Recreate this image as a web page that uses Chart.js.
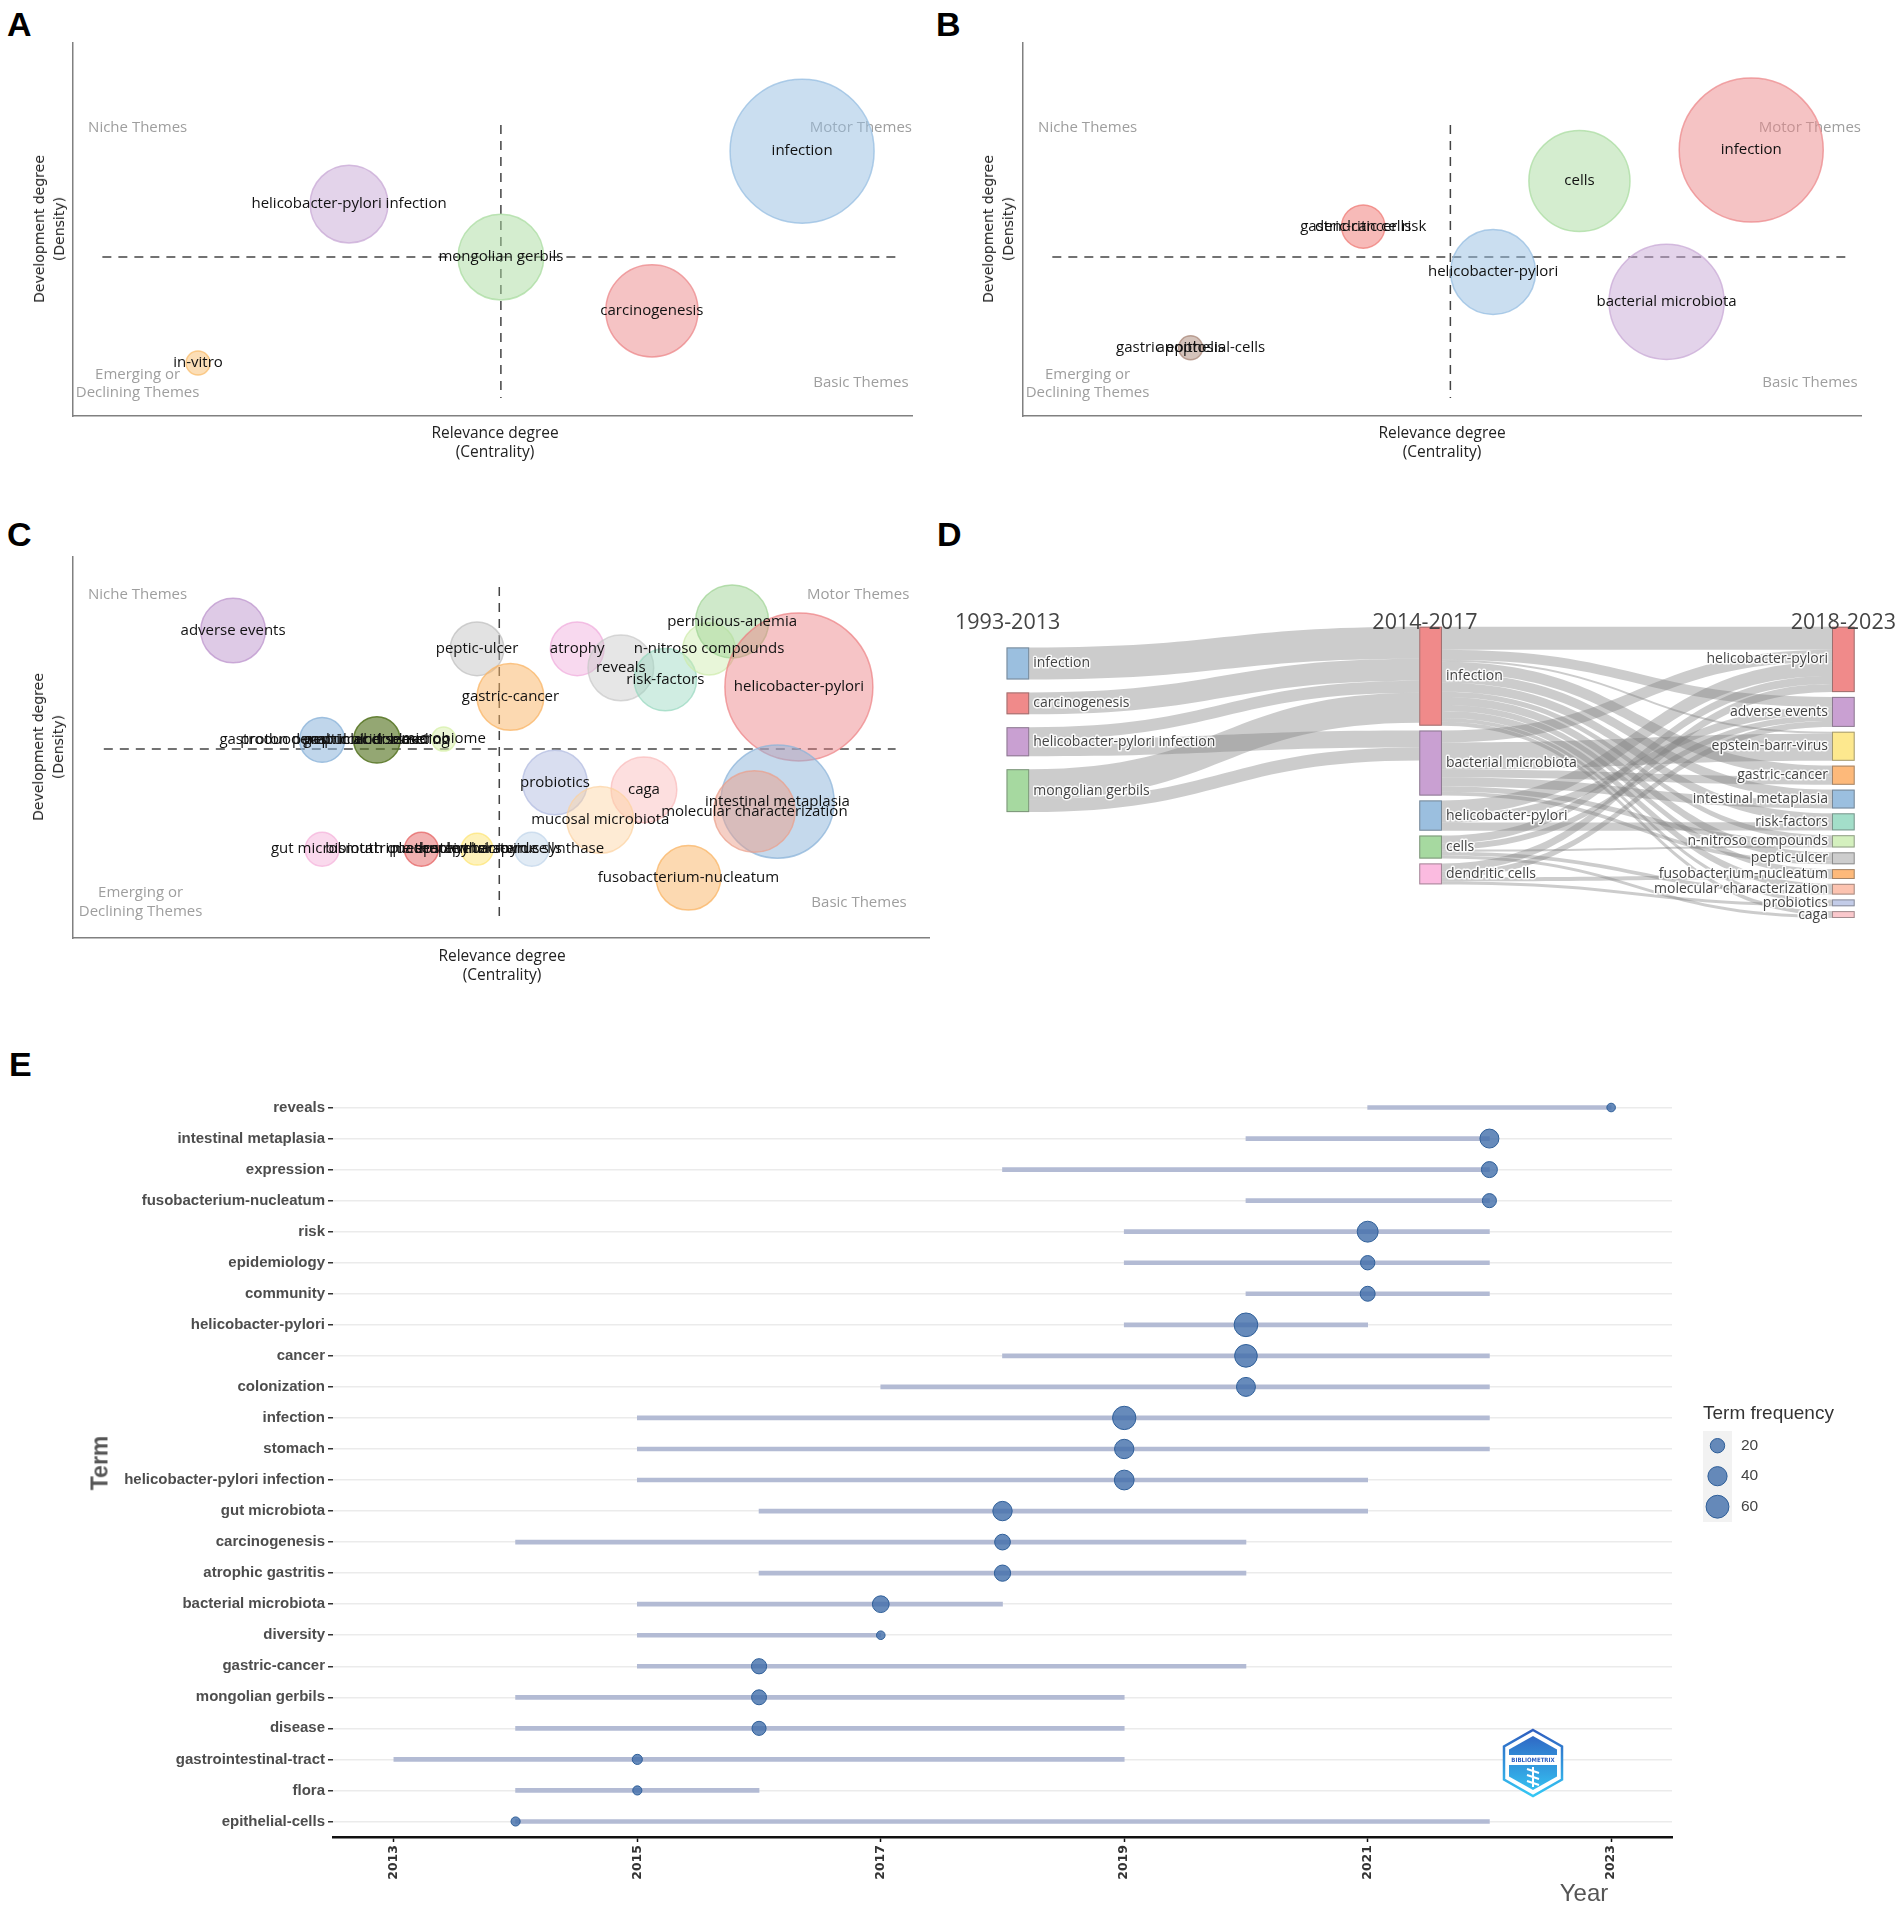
<!DOCTYPE html>
<html>
<head>
<meta charset="utf-8">
<script src="https://cdn.jsdelivr.net/npm/chart.js@4.4.1/dist/chart.umd.min.js"></script>
<style>
  body { margin: 0; background: #fff; }
  #page { position: relative; width: 1902px; height: 1909px; overflow: hidden; background: #fff; font-family: "Open Sans", sans-serif; }
  canvas { position: absolute; }
  .t { position: absolute; white-space: nowrap; line-height: 1; }
  .letter { font: bold 34px "Liberation Sans", Arial, sans-serif; color: #000; }
  .xtitle { font: 15.5px "Open Sans"; color: #222; text-align: center; line-height: 19px; transform: translate(-50%, -50%); }
  .ytitle { font: 14px "DejaVu Sans"; color: #222; text-align: center; line-height: 20px; transform: translate(-50%, -50%) rotate(-90deg); }
  .period { font: 21.5px "Open Sans"; color: #444; }
</style>
</head>
<body>
<div id="page">
  <div class="t letter" style="left:7px;top:5px">A</div>
  <div class="t letter" style="left:936px;top:5px">B</div>
  <div class="t letter" style="left:7px;top:515px">C</div>
  <div class="t letter" style="left:937px;top:515px">D</div>
  <div class="t letter" style="left:9px;top:1045px">E</div>

  <canvas id="cA" width="950" height="480" style="left:0;top:0"></canvas>
  <canvas id="cB" width="952" height="480" style="left:950px;top:0"></canvas>
  <canvas id="cC" width="950" height="500" style="left:0;top:500px"></canvas>
  <canvas id="cD" width="952" height="330" style="left:950px;top:600px"></canvas>
  <canvas id="cE" width="1902" height="849" style="left:0;top:1060px"></canvas>

  <div class="t xtitle" style="left:495px;top:442px">Relevance degree<br>(Centrality)</div>
  <div class="t ytitle" style="left:49px;top:229px">Development degree<br>(Density)</div>
  <div class="t xtitle" style="left:1442px;top:442px">Relevance degree<br>(Centrality)</div>
  <div class="t ytitle" style="left:998px;top:229px">Development degree<br>(Density)</div>
  <div class="t xtitle" style="left:502px;top:965px">Relevance degree<br>(Centrality)</div>
  <div class="t ytitle" style="left:48px;top:747px">Development degree<br>(Density)</div>

  <div class="t period" style="left:955px;top:620px;transform:translate(0,-50%)">1993-2013</div>
  <div class="t period" style="left:1425px;top:620px;transform:translate(-50%,-50%)">2014-2017</div>
  <div class="t period" style="left:1896px;top:620px;transform:translate(-100%,-50%)">2018-2023</div>

  <div class="t" style="left:100px;top:1463px;transform:translate(-50%,-50%) rotate(-90deg);font:bold 23px 'Liberation Sans',Arial,sans-serif;color:#555">Term</div>
  <div class="t" style="left:1584px;top:1893px;transform:translate(-50%,-50%);font:24px 'Liberation Sans',Arial,sans-serif;color:#555">Year</div>
  <div class="t" style="left:1703px;top:1413px;transform:translate(0,-50%);font:19px 'Liberation Sans',Arial,sans-serif;color:#333">Term frequency</div>
</div>

<script>
// ---------------- data ----------------

// A: thematic map 1993-2013 (centrality / density on a 0-100 rank scale)
const aTerms = [['infection'], ['helicobacter-pylori infection'], ['mongolian gerbils'], ['carcinogenesis'], ['in-vitro']];
const aCentrality = [86.9, 32.9, 51.0, 69.0, 14.9];
const aDensity = [71.0, 56.8, 42.6, 28.2, 14.2];
const aFreq = [144, 42, 51, 59, 4];

// B: thematic map 2014-2017
const bTerms = [['infection'], ['cells'], ['gastric-cancer risk', 'dendritic cells'], ['helicobacter-pylori'], ['bacterial microbiota'], ['gastric epithelial-cells', 'apoptosis']];
const bCentrality = [86.9, 66.4, 40.6, 56.1, 76.8, 20.0];
const bDensity = [71.3, 63.0, 50.8, 38.6, 30.6, 18.3];
const bFreq = [144, 71, 13, 50, 92, 4];

// C: thematic map 2018-2023
const cTerms = [
  ['adverse events'], ['peptic-ulcer'], ['atrophy'], ['reveals'], ['risk-factors'], ['n-nitroso compounds'],
  ['pernicious-anemia'], ['helicobacter-pylori'], ['gastric-cancer'],
  ['gastroduodenal ulcer disease', 'proton pump inhibitors'], ['peptic ulcer bleeding', 'gastric acid secretion'], ['microbiome'],
  ['probiotics'], ['caga'], ['mucosal microbiota'], ['intestinal metaplasia'], ['molecular characterization'], ['fusobacterium-nucleatum'],
  ['gut microbiota'], ['triple therapy', 'bismuth quadruple therapy'], ['epstein-barr-virus', 'mesenchymal stem cells'], ['nitric-oxide synthase']
];
const cCentrality = [18.7, 47.2, 58.9, 64.0, 69.2, 74.3, 77.0, 84.8, 51.1, 29.1, 35.5, 43.3, 56.3, 66.7, 61.6, 82.3, 79.6, 71.9, 29.1, 40.7, 47.2, 53.6];
const cDensity = [80.7, 75.9, 75.9, 70.9, 67.8, 75.9, 83.1, 65.9, 63.3, 52.0, 52.0, 52.2, 40.8, 38.9, 31.0, 35.8, 33.2, 15.8, 23.3, 23.3, 23.3, 23.3];
const cFreq = [29, 20, 20, 30, 27, 19, 37, 152, 31, 14, 15, 4, 29, 30, 31, 89, 46, 29, 8, 8, 7, 8];

// D: thematic evolution (sankey)
const dNodes = ['infection', 'carcinogenesis', 'helicobacter-pylori infection', 'mongolian gerbils',
  'infection', 'bacterial microbiota', 'helicobacter-pylori', 'cells', 'dendritic cells',
  'helicobacter-pylori', 'adverse events', 'epstein-barr-virus', 'gastric-cancer', 'intestinal metaplasia',
  'risk-factors', 'n-nitroso compounds', 'peptic-ulcer', 'fusobacterium-nucleatum', 'molecular characterization',
  'probiotics', 'caga'];
const dNodePeriod = [0, 0, 0, 0, 1, 1, 1, 1, 1, 2, 2, 2, 2, 2, 2, 2, 2, 2, 2, 2, 2];
const dLinkFrom = [0, 1, 2, 2, 3, 3,
  4, 4, 4, 4, 4, 4, 4, 4, 4, 4, 4, 4,
  5, 5, 5, 5, 5, 5,
  6, 6, 6,
  7, 7, 7, 7, 7,
  8, 8, 8, 8];
const dLinkTo = [4, 4, 4, 5, 4, 5,
  9, 10, 11, 12, 13, 14, 15, 16, 17, 18, 19, 20,
  9, 11, 12, 13, 15, 16,
  9, 10, 14,
  9, 10, 15, 18, 20,
  9, 10, 17, 19];
const dLinkValue = [10.7, 7.3, 4.0, 5.7, 10.0, 4.3,
  7.7, 3.3, 0.7, 3.7, 3.3, 3.0, 1.7, 2.7, 2.0, 2.3, 1.3, 1.3,
  4.0, 9.0, 2.7, 3.0, 1.7, 1.3,
  4.7, 2.7, 2.7,
  2.7, 2.0, 0.7, 1.3, 1.0,
  2.7, 2.0, 1.3, 1.0];

// E: trend topics
const eTerms = ['reveals', 'intestinal metaplasia', 'expression', 'fusobacterium-nucleatum', 'risk', 'epidemiology',
  'community', 'helicobacter-pylori', 'cancer', 'colonization', 'infection', 'stomach', 'helicobacter-pylori infection',
  'gut microbiota', 'carcinogenesis', 'atrophic gastritis', 'bacterial microbiota', 'diversity', 'gastric-cancer',
  'mongolian gerbils', 'disease', 'gastrointestinal-tract', 'flora', 'epithelial-cells'];
const eYearQ1 = [2021, 2020, 2018, 2020, 2019, 2019, 2020, 2019, 2018, 2017, 2015, 2015, 2015, 2016, 2014, 2016, 2015, 2015, 2015, 2014, 2014, 2013, 2014, 2014];
const eYearMedian = [2023, 2022, 2022, 2022, 2021, 2021, 2021, 2020, 2020, 2020, 2019, 2019, 2019, 2018, 2018, 2018, 2017, 2017, 2016, 2016, 2016, 2015, 2015, 2014];
const eYearQ3 = [2023, 2022, 2022, 2022, 2022, 2022, 2022, 2021, 2022, 2022, 2022, 2022, 2021, 2021, 2020, 2020, 2018, 2017, 2020, 2019, 2019, 2019, 2016, 2022];
const eFreq = [5, 39, 26, 19, 49, 20, 22, 65, 59, 39, 63, 41, 43, 41, 25, 27, 29, 5, 23, 22, 19, 8, 6, 6];
const eYearTicks = [2013, 2015, 2017, 2019, 2021, 2023];
const eLegendFreq = [20, 40, 60];

// ---------------- styles ----------------

const rgba = (c, a) => `rgba(${c[0]},${c[1]},${c[2]},${a})`;

const aColors = [[150, 190, 225, 0.5], [200, 168, 213, 0.5], [170, 220, 160, 0.5], [236, 135, 138, 0.5], [250, 190, 110, 0.5]];
const bColors = [[236, 135, 138, 0.5], [170, 220, 160, 0.5], [240, 130, 125, 0.55], [150, 190, 225, 0.5], [200, 168, 213, 0.5], [170, 135, 120, 0.5]];
const cColors = [
  [190, 150, 205, 0.5], [190, 190, 190, 0.45], [240, 170, 220, 0.45], [200, 200, 200, 0.45], [150, 215, 190, 0.45], [205, 235, 170, 0.45],
  [160, 212, 150, 0.5], [236, 125, 128, 0.45], [250, 180, 100, 0.5],
  [140, 180, 218, 0.55], [90, 120, 40, 0.65], [215, 240, 170, 0.5],
  [180, 190, 225, 0.5], [250, 185, 185, 0.45], [252, 210, 160, 0.45], [140, 180, 218, 0.5], [235, 160, 140, 0.5], [250, 180, 100, 0.5],
  [245, 180, 220, 0.5], [230, 100, 100, 0.5], [253, 230, 120, 0.5], [195, 215, 235, 0.5]
];
const dNodeColors = ['#9bbfdf', '#f08a8a', '#c9a0d2', '#a6d9a0',
  '#f08a8a', '#c9a0d2', '#9bbfdf', '#a6d9a0', '#fbbbe0',
  '#f08a8a', '#c9a0d2', '#fde88e', '#fdb97a', '#9bbfdf', '#a3dec9', '#d4f0be', '#cdcdcd', '#fdb97a', '#fcc3b0', '#c3cce8', '#fac8cc'];

// quadrant decorations per map (data units)
const decoAB = {
  vLine: { x: 51.0, y0: 4.8, y1: 78.0 },
  hLine: { y: 42.6, x0: 3.5, x1: 98.6 },
  quadrants: [
    { text: 'Niche Themes', x: 1.8, y: 77.2, align: 'left' },
    { text: 'Motor Themes', x: 100, y: 77.2, align: 'right' },
    { text: 'Emerging or', x: 7.7, y: 11.0, align: 'center' },
    { text: 'Declining Themes', x: 7.7, y: 6.2, align: 'center' },
    { text: 'Basic Themes', x: 99.6, y: 8.8, align: 'right' }
  ]
};
const decoC = {
  vLine: { x: 49.8, y0: 5.2, y1: 92.1 },
  hLine: { y: 49.6, x0: 3.6, x1: 96.1 },
  quadrants: [
    { text: 'Niche Themes', x: 1.75, y: 90.0, align: 'left' },
    { text: 'Motor Themes', x: 97.7, y: 90.0, align: 'right' },
    { text: 'Emerging or', x: 7.9, y: 11.8, align: 'center' },
    { text: 'Declining Themes', x: 7.9, y: 6.8, align: 'center' },
    { text: 'Basic Themes', x: 97.4, y: 9.2, align: 'right' }
  ]
};

// ---------------- thematic maps ----------------

function mapDecor(terms, deco) {
  return {
    id: 'mapDecor',
    beforeDatasetsDraw(chart) {
      const { ctx, scales: { x, y } } = chart;
      ctx.save();
      ctx.strokeStyle = '#444';
      ctx.lineWidth = 1.5;
      ctx.setLineDash([9, 7]);
      ctx.beginPath();
      ctx.moveTo(x.getPixelForValue(deco.vLine.x), y.getPixelForValue(deco.vLine.y1));
      ctx.lineTo(x.getPixelForValue(deco.vLine.x), y.getPixelForValue(deco.vLine.y0));
      ctx.moveTo(x.getPixelForValue(deco.hLine.x0), y.getPixelForValue(deco.hLine.y));
      ctx.lineTo(x.getPixelForValue(deco.hLine.x1), y.getPixelForValue(deco.hLine.y));
      ctx.stroke();
      ctx.setLineDash([]);
      ctx.font = '15px "Open Sans"';
      ctx.fillStyle = '#9e9e9e';
      ctx.textBaseline = 'middle';
      deco.quadrants.forEach(q => {
        ctx.textAlign = q.align;
        ctx.fillText(q.text, x.getPixelForValue(q.x), y.getPixelForValue(q.y));
      });
      ctx.restore();
    },
    afterDatasetsDraw(chart) {
      const ctx = chart.ctx;
      ctx.save();
      ctx.font = '15px "Open Sans"';
      ctx.fillStyle = '#111';
      ctx.textAlign = 'center';
      ctx.textBaseline = 'middle';
      chart.getDatasetMeta(0).data.forEach((el, i) => {
        terms[i].forEach(t => ctx.fillText(t, el.x, el.y));
      });
      ctx.restore();
    }
  };
}

function themeMap(id, terms, cx, dy, freq, colors, geo, deco) {
  return new Chart(document.getElementById(id), {
    type: 'bubble',
    data: {
      datasets: [{
        data: cx.map((v, i) => ({ x: v, y: dy[i], r: 6 * Math.sqrt(freq[i]) })),
        backgroundColor: colors.map(c => rgba(c, c[3])),
        borderColor: colors.map(c => rgba(c, Math.min(1, c[3] + 0.25))),
        borderWidth: 1.5
      }]
    },
    options: {
      responsive: false,
      animation: false,
      events: [],
      layout: { autoPadding: false, padding: { top: geo.top, right: geo.right, left: 0, bottom: 0 } },
      plugins: { legend: { display: false }, tooltip: { enabled: false } },
      scales: {
        x: {
          type: 'linear', min: 0, max: 100,
          ticks: { display: false }, grid: { display: false },
          border: { color: '#808080', width: 1.5 },
          afterFit: s => { s.height = geo.bottom; }
        },
        y: {
          type: 'linear', min: 0, max: 100,
          ticks: { display: false }, grid: { display: false },
          border: { color: '#808080', width: 1.5 },
          afterFit: s => { s.width = geo.left; }
        }
      }
    },
    plugins: [mapDecor(terms, deco)]
  });
}

themeMap('cA', aTerms, aCentrality, aDensity, aFreq, aColors, { top: 43, right: 38, bottom: 64, left: 73 }, decoAB);
themeMap('cB', bTerms, bCentrality, bDensity, bFreq, bColors, { top: 43, right: 41, bottom: 64, left: 73 }, decoAB);
themeMap('cC', cTerms, cCentrality, cDensity, cFreq, cColors, { top: 57, right: 21, bottom: 62, left: 73 }, decoC);

// ---------------- sankey ----------------

const periodTop = [6.9, 0, 0];   // value units from the top
const periodGap = [4.3, 1.6, 1.6];
const nodeWidth = 22.7;

const sankeyPlugin = {
  id: 'sankey',
  afterDatasetsDraw(chart) {
    const { ctx, scales: { x, y } } = chart;
    const nodes = dNodes.map((name, i) => ({ name, col: dNodePeriod[i], color: dNodeColors[i], inV: 0, outV: 0 }));
    const links = dLinkFrom.map((s, k) => ({ s, t: dLinkTo[k], v: dLinkValue[k] }));
    links.forEach(l => { nodes[l.s].outV += l.v; nodes[l.t].inV += l.v; });

    [0, 1, 2].forEach(c => {
      let v = periodTop[c];
      nodes.forEach(n => {
        if (n.col !== c) return;
        n.v0 = v;
        n.v1 = v + Math.max(n.inV, n.outV);
        v = n.v1 + periodGap[c];
      });
    });

    // stack the link ends on each node
    nodes.forEach((n, i) => {
      let o = n.v0;
      links.filter(l => l.s === i).sort((a, b) => a.t - b.t).forEach(l => { l.sy0 = o; o += l.v; l.sy1 = o; });
      let p = n.v0;
      links.filter(l => l.t === i).sort((a, b) => a.s - b.s).forEach(l => { l.ty0 = p; p += l.v; l.ty1 = p; });
    });

    ctx.save();
    ctx.fillStyle = 'rgba(128,128,128,0.4)';
    links.forEach(l => {
      const x0 = x.getPixelForValue(nodes[l.s].col) + nodeWidth / 2;
      const x1 = x.getPixelForValue(nodes[l.t].col) - nodeWidth / 2;
      const xm = (x0 + x1) / 2;
      const a0 = y.getPixelForValue(l.sy0), a1 = y.getPixelForValue(l.sy1);
      const b0 = y.getPixelForValue(l.ty0), b1 = y.getPixelForValue(l.ty1);
      ctx.beginPath();
      ctx.moveTo(x0, a0);
      ctx.bezierCurveTo(xm, a0, xm, b0, x1, b0);
      ctx.lineTo(x1, b1);
      ctx.bezierCurveTo(xm, b1, xm, a1, x0, a1);
      ctx.closePath();
      ctx.fill();
    });

    ctx.lineWidth = 1;
    ctx.strokeStyle = 'rgba(90,90,90,0.55)';
    nodes.forEach(n => {
      const left = x.getPixelForValue(n.col) - nodeWidth / 2;
      const top = y.getPixelForValue(n.v0);
      const h = y.getPixelForValue(n.v1) - top;
      ctx.fillStyle = n.color;
      ctx.fillRect(left, top, nodeWidth, h);
      ctx.strokeRect(left + 0.5, top + 0.5, nodeWidth - 1, h - 1);
    });

    ctx.font = '14px "Open Sans"';
    ctx.textBaseline = 'middle';
    ctx.lineJoin = 'round';
    nodes.forEach(n => {
      const cxp = x.getPixelForValue(n.col);
      const cy = (y.getPixelForValue(n.v0) + y.getPixelForValue(n.v1)) / 2;
      let tx;
      if (n.col < 2) { ctx.textAlign = 'left'; tx = cxp + nodeWidth / 2 + 4; }
      else { ctx.textAlign = 'right'; tx = cxp - nodeWidth / 2 - 4; }
      ctx.strokeStyle = 'rgba(255,255,255,0.9)';
      ctx.lineWidth = 3;
      ctx.strokeText(n.name, tx, cy);
      ctx.fillStyle = '#444';
      ctx.fillText(n.name, tx, cy);
    });
    ctx.restore();
  }
};

new Chart(document.getElementById('cD'), {
  type: 'scatter',
  data: { datasets: [{ data: [] }] },
  options: {
    responsive: false,
    animation: false,
    events: [],
    layout: { autoPadding: false, padding: { left: 56.5, right: 47.3, top: 26.7, bottom: 3.3 } },
    plugins: { legend: { display: false }, tooltip: { enabled: false } },
    scales: {
      x: { type: 'linear', display: false, min: -0.0275, max: 2.0275 },
      y: { type: 'linear', display: false, min: 0, max: 100, reverse: true }
    }
  },
  plugins: [sankeyPlugin]
});

// ---------------- trend topics ----------------

const dotRadius = f => (2.8 + 2.59 * Math.sqrt(f)) / 2;

function drawLogo(ctx, cx, cy) {
  const w = 29, h = 33;
  const hex = (ww, hh) => {
    ctx.beginPath();
    ctx.moveTo(cx, cy - hh);
    ctx.lineTo(cx + ww, cy - hh / 2);
    ctx.lineTo(cx + ww, cy + hh / 2);
    ctx.lineTo(cx, cy + hh);
    ctx.lineTo(cx - ww, cy + hh / 2);
    ctx.lineTo(cx - ww, cy - hh / 2);
    ctx.closePath();
  };
  const g = ctx.createLinearGradient(0, cy - h, 0, cy + h);
  g.addColorStop(0, '#2f5fc0');
  g.addColorStop(1, '#35c8f5');
  hex(w, h);
  ctx.fillStyle = '#fff';
  ctx.fill();
  ctx.lineWidth = 2.5;
  ctx.strokeStyle = g;
  ctx.stroke();
  hex(w - 5, h - 6);
  ctx.fillStyle = g;
  ctx.fill();
  ctx.fillStyle = '#fff';
  ctx.fillRect(cx - w + 5, cy - 8, 2 * (w - 5), 10);
  ctx.fillStyle = '#2f5fc0';
  ctx.font = 'bold 6px "DejaVu Sans Condensed", "DejaVu Sans"';
  ctx.textAlign = 'center';
  ctx.textBaseline = 'middle';
  ctx.fillText('BIBLIOMETRIX', cx, cy - 3);
  ctx.strokeStyle = '#fff';
  ctx.lineWidth = 2;
  ctx.beginPath();
  for (let k = 0; k < 3; k++) {
    ctx.moveTo(cx - 6, cy + 6 + k * 6);
    ctx.lineTo(cx + 6, cy + 10 + k * 6);
  }
  ctx.moveTo(cx, cy + 4);
  ctx.lineTo(cx, cy + 24);
  ctx.stroke();
}

const trendExtras = {
  id: 'trendExtras',
  afterDraw(chart) {
    const ctx = chart.ctx;
    ctx.save();
    // size legend (keys from the same radius function as the dots)
    ctx.fillStyle = '#f2f2f2';
    ctx.fillRect(1703, 371, 29, 91);
    eLegendFreq.forEach((f, k) => {
      const cy = 385.7 + k * 30.5;
      ctx.beginPath();
      ctx.arc(1717.5, cy, dotRadius(f), 0, Math.PI * 2);
      ctx.fillStyle = 'rgba(65,110,170,0.8)';
      ctx.fill();
      ctx.lineWidth = 1;
      ctx.strokeStyle = '#2f5f99';
      ctx.stroke();
      ctx.fillStyle = '#444';
      ctx.font = '15.5px "Liberation Sans", Arial';
      ctx.textAlign = 'left';
      ctx.textBaseline = 'middle';
      ctx.fillText(String(f), 1741, cy);
    });
    drawLogo(ctx, 1533, 703);
    ctx.restore();
  }
};

new Chart(document.getElementById('cE'), {
  type: 'bar',
  data: {
    labels: eTerms,
    datasets: [
      {
        type: 'bubble',
        data: eTerms.map((t, i) => ({ x: eYearMedian[i], y: t, r: dotRadius(eFreq[i]) })),
        backgroundColor: 'rgba(65,110,170,0.8)',
        borderColor: '#2f5f99',
        borderWidth: 1,
        order: 0
      },
      {
        type: 'bar',
        indexAxis: 'y',
        data: eTerms.map((t, i) => [eYearQ1[i], eYearQ3[i]]),
        backgroundColor: '#b3bbd4',
        barThickness: 4,
        order: 1
      }
    ]
  },
  options: {
    indexAxis: 'y',
    responsive: false,
    animation: false,
    events: [],
    layout: { autoPadding: false, padding: { top: 32, right: 230, left: 0, bottom: 0 } },
    plugins: { legend: { display: false }, tooltip: { enabled: false } },
    scales: {
      x: {
        type: 'linear', min: 2012.5, max: 2023.5,
        afterBuildTicks: s => { s.ticks = eYearTicks.map(v => ({ value: v })); },
        ticks: {
          autoSkip: false, minRotation: 90, maxRotation: 90,
          color: '#333', font: { family: 'DejaVu Sans', weight: 'bold', size: 12.5 },
          callback: v => String(v)
        },
        grid: { drawOnChartArea: false, tickLength: 5, tickColor: '#111', tickWidth: 1.5 },
        border: { color: '#111', width: 2.5 },
        afterFit: s => { s.height = 72; }
      },
      y: {
        type: 'category',
        ticks: {
          autoSkip: false, padding: 3,
          color: '#4d4d4d', font: { family: 'Liberation Sans', weight: 'bold', size: 15 }
        },
        grid: { color: '#ebebeb', lineWidth: 1.5, offset: false, tickLength: 5, tickColor: '#333', tickWidth: 1.5 },
        border: { display: false },
        afterFit: s => { s.width = 333; }
      }
    }
  },
  plugins: [trendExtras]
});
</script>
</body>
</html>
